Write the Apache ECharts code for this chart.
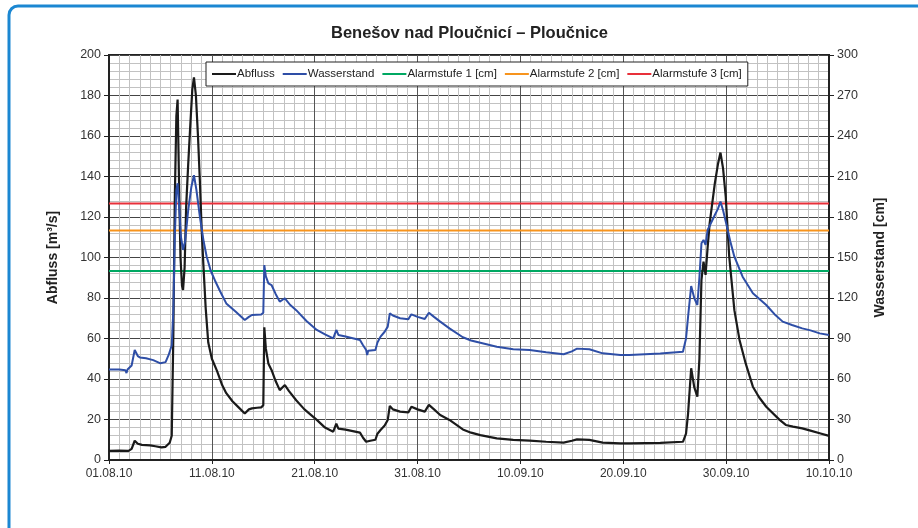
<!DOCTYPE html>
<html>
<head>
<meta charset="utf-8">
<script src="https://cdn.jsdelivr.net/npm/echarts@6/dist/echarts.min.js"></script>
<style>
html,body{margin:0;padding:0;background:#fff;}
#chart{width:918px;height:528px;}
</style>
</head>
<body>
<div id="chart"></div>
<script>
// x values are days since 01.08.10 00:00
const xTickLabels = ['01.08.10','11.08.10','21.08.10','31.08.10','10.09.10','20.09.10','30.09.10','10.10.10'];

const abflussDays = [0,1.0,1.9,2.2,2.5,2.8,3.2,4,4.5,5.1,5.5,5.9,6.1,6.25,6.4,6.55,6.67,6.8,6.95,7.1,7.2,7.35,7.5,7.7,7.9,8.1,8.26,8.45,8.65,8.84,9.0,9.17,9.4,9.65,10.0,10.5,11.0,11.4,12.0,12.6,13.2,13.6,13.9,14.4,14.8,15.0,15.1,15.25,15.5,15.8,16.2,16.6,17.1,17.5,18.2,19.0,20.2,21.0,21.8,22.1,22.3,23.0,24.4,24.7,25.0,25.4,25.9,26.1,26.4,26.8,27.1,27.3,27.6,28.3,29.1,29.4,30.0,30.7,31.1,31.6,32.2,33.1,34.4,35.2,36.1,37.7,39.3,40.9,42.5,44.2,45.0,45.5,46.7,48.0,49.7,50.6,53.6,55.8,56.1,56.3,56.6,56.9,57.2,57.4,57.6,57.8,58.0,58.2,58.4,58.9,59.2,59.45,59.7,59.96,60.3,60.8,61.3,61.9,62.6,63.2,63.9,65.2,65.8,66.5,67.4,68.2,69.1,70];
const abflussValues = [4.5,4.6,4.5,5.5,9.5,8,7.5,7.2,6.8,6.2,6.5,8.5,12,60,130,170,178,140,100,86,84,95,125,146,165,183,189,180,160,137,115,97,75,58,50,44,37,33,29,26,23,25,25.5,25.8,26,27,65.5,55,47.5,44.5,39,34.5,37,34,29.5,25,19.8,16,14,18,15.5,15,13.5,11,9,9.5,10,13,14.8,17,19.8,26.7,25,23.9,23.5,26.3,25,23.9,27.2,25,22.2,19.8,15.1,13.5,12.3,10.7,9.9,9.6,9,8.6,9.5,10.2,9.9,8.6,8.2,8.2,8.5,9,13,23,45.3,36,31.3,50,89,98,91.4,105,117,136.6,146,151.8,144,130,100.4,74,59.3,47.7,36.2,31,26.3,19.8,17.3,16.5,15.6,14.5,13.2,11.9];

const wasserDays = [0,1.0,1.6,1.7,1.8,2.2,2.5,2.8,3.0,3.6,4.3,5.0,5.5,5.8,6.1,6.25,6.4,6.55,6.67,6.8,7.0,7.2,7.4,7.7,8.0,8.26,8.5,8.84,9.2,9.5,9.9,10.3,10.8,11.4,12.3,13.2,13.6,13.9,14.8,15.0,15.1,15.25,15.5,15.8,16.2,16.6,17.1,17.6,18.2,19.2,20.2,21.0,21.8,22.1,22.3,23.0,24.4,24.7,25.0,25.1,25.2,25.9,26.1,26.4,26.8,27.1,27.3,27.6,28.3,29.1,29.4,30.0,30.7,31.1,31.6,32.2,33.1,34.4,35.2,36.1,37.7,39.3,40.9,42.5,44.2,45.0,45.5,46.7,48.0,49.7,50.6,53.6,55.8,56.1,56.3,56.6,56.9,57.2,57.4,57.6,57.8,58.0,58.2,58.9,59.2,59.45,59.7,60.0,60.4,60.8,61.6,62.6,63.9,64.7,65.5,66.4,67.4,68.2,69.1,70];
const wasserValues = [67,67,66.5,64.4,67,70,81.5,77,76,75.3,74,71.6,72.5,77.8,85,110,165,200,205,190,165,155.6,162,185,202,211,200,180,162,150.6,140,133,125,116,110,103.7,106,107.4,107.7,109,144.4,136,130.9,129.6,123,117.3,119.8,115,111,103,96.3,93,90.1,96.3,92.6,91.5,88.9,85,81.5,77.8,81,81.5,87,91.4,95,98.8,108.6,107,105,104.2,107.9,106,104.4,109.1,106,102.5,97.5,90.9,88.5,86.9,83.9,82,81.5,79.8,78.3,80.5,82.5,82,79,77.8,77.8,78.8,80.2,90,106.2,128.9,120,114.8,135,160.5,163,159.3,170.4,181.5,186,191.4,185,175.3,162,150.6,135.8,123.5,114.8,108,102.5,100,97.5,96,93.8,92.6];

const alarmNames = ['Alarmstufe 1 [cm]','Alarmstufe 2 [cm]','Alarmstufe 3 [cm]'];
const alarmLevels = [140,170,190];
const alarmColors = ['#00a862','#f7941d','#e8303a'];
const xRange = [0,70];

const font = 'Liberation Sans, Arial, sans-serif';
const chart = echarts.init(document.getElementById('chart'), null, {renderer:'canvas'});

const series = [
  {name:'Abfluss', type:'line', yAxisIndex:0, showSymbol:false, symbol:'none',
   data: abflussDays.map((d,i)=>[d,abflussValues[i]]),
   lineStyle:{color:'#1a1a1a', width:2.2}, itemStyle:{color:'#1a1a1a'}, z:4},
  {name:'Wasserstand', type:'line', yAxisIndex:1, showSymbol:false, symbol:'none',
   data: wasserDays.map((d,i)=>[d,wasserValues[i]]),
   lineStyle:{color:'#2e4ea6', width:2}, itemStyle:{color:'#2e4ea6'}, z:4}
];
alarmNames.forEach((n,i)=>{
  series.push({name:n, type:'line', yAxisIndex:1, showSymbol:false, symbol:'none',
    data: xRange.map(x=>[x,alarmLevels[i]]),
    lineStyle:{color:alarmColors[i], width:2}, itemStyle:{color:alarmColors[i]}, z:3});
});

chart.setOption({
  animation:false,
  backgroundColor:'#fff',
  textStyle:{fontFamily:font},
  title:{text:'Benešov nad Ploučnicí – Ploučnice', left:326, top:20,
    textStyle:{fontFamily:font, fontSize:16.5, fontWeight:'bold', color:'#222'}},
  graphic:[{type:'rect', shape:{x:9, y:6, width:1000, height:600, r:9},
    style:{fill:'none', stroke:'#1b87d2', lineWidth:3}, silent:true, z:100}],
  legend:{left:206, top:62, orient:'horizontal',
    backgroundColor:'#fff', borderColor:'#222', borderWidth:1, borderRadius:0,
    padding:[6,6,6,6], itemGap:8, itemWidth:24, itemHeight:2, icon:'rect',
    textStyle:{fontFamily:font, fontSize:11.5, color:'#222', padding:[0,0,0,-4]},
    data: ['Abfluss','Wasserstand'].concat(alarmNames)},
  grid:{left:109, right:89, top:55, bottom:68, show:true, borderColor:'#222', borderWidth:2, backgroundColor:'transparent'},
  xAxis:{type:'value', min:0, max:70, interval:10,
    axisLine:{show:true, lineStyle:{color:'#222', width:2}},
    axisTick:{show:true, length:4, lineStyle:{color:'#222'}},
    axisLabel:{formatter:v=>xTickLabels[Math.round(v/10)], fontFamily:font, fontSize:12, color:'#333', margin:8},
    splitLine:{show:true, lineStyle:{color:'#555', width:1}},
    minorTick:{show:false, splitNumber:10},
    minorSplitLine:{show:true, lineStyle:{color:'#c2c2c2', width:1}}},
  yAxis:[
    {type:'value', min:0, max:200, interval:20, position:'left',
      name:'Abfluss [m³/s]', nameLocation:'middle', nameGap:49, nameRotate:90,
      nameTextStyle:{fontFamily:font, fontSize:14, fontWeight:'bold', color:'#222'},
      axisLine:{show:true, lineStyle:{color:'#222', width:2}},
      axisTick:{show:true, length:5, lineStyle:{color:'#222'}},
      axisLabel:{fontFamily:font, fontSize:12.5, color:'#333', margin:8},
      splitLine:{show:true, lineStyle:{color:'#444', width:1}},
      minorTick:{show:false, splitNumber:5},
      minorSplitLine:{show:true, lineStyle:{color:'#c2c2c2', width:1}}},
    {type:'value', min:0, max:300, interval:30, position:'right',
      name:'Wasserstand [cm]', nameLocation:'middle', nameGap:44, nameRotate:90,
      nameTextStyle:{fontFamily:font, fontSize:14, fontWeight:'bold', color:'#222'},
      axisLine:{show:true, lineStyle:{color:'#222', width:2}},
      axisTick:{show:true, length:5, lineStyle:{color:'#222'}},
      axisLabel:{fontFamily:font, fontSize:12.5, color:'#333', margin:8},
      splitLine:{show:false}}
  ],
  series: series
});
</script>
</body>
</html>
